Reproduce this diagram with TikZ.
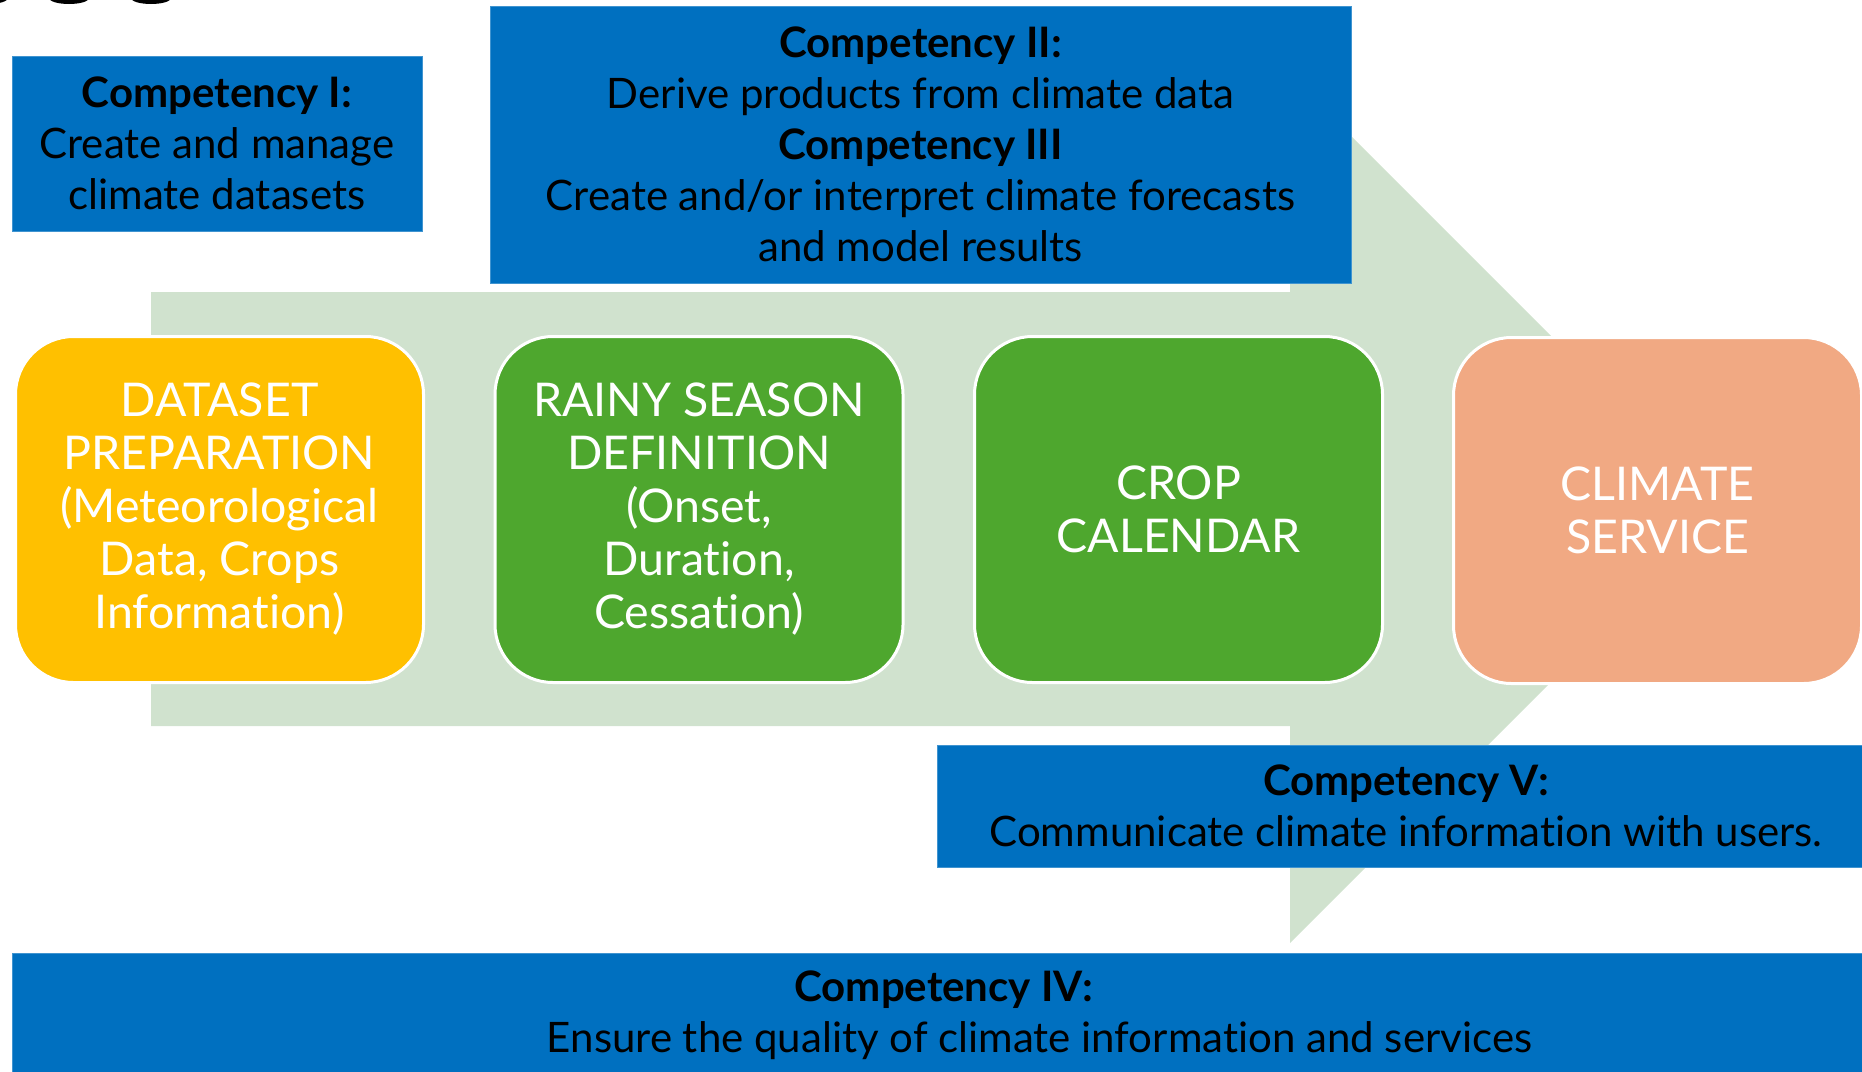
\documentclass[tikz,border=0pt]{standalone}
\usepackage{fontspec}
\setmainfont{Lato}[Ligatures=NoCommon]

\definecolor{compblue}{HTML}{0070C0}
\definecolor{bandgreen}{HTML}{D0E2CE}
\definecolor{prepyellow}{HTML}{FFC000}
\definecolor{stepgreen}{HTML}{4EA72E}
\definecolor{servsalmon}{HTML}{F1A983}

\begin{document}
\begin{tikzpicture}[x=1pt,y=-1pt,
	comp/.style={fill=compblue, draw=compblue!75!white, line width=1pt, align=center, inner sep=0pt, font=\fontsize{42}{51}\selectfont},
	stage/.style={rounded corners=58pt, draw=white, line width=3pt, align=center, text=white, inner sep=0pt,
		minimum width=408pt, minimum height=346pt, font=\fontsize{46.5}{53}\selectfont}]
	
	\clip (0,0) rectangle (1862,1071);
	
	%cut off title letters
	\fill[black] (-12,-2) ellipse (20 and 6);
	\fill[black] (69,-2) ellipse (20 and 6);
	\fill[black] (151,-2) ellipse (20 and 6);
	
	%big arrow behind the stages
	\fill[bandgreen] (151,292) -- (1290,292) -- (1290,75) -- (1724,509) -- (1290,943) -- (1290,726) -- (151,726) -- cycle;
	
	%competency boxes
	\node[comp, minimum width=410pt, minimum height=175pt] (c1) at (217,143.5){\textbf{Competency I:}\\Create and manage\\climate datasets};
	\node[comp, minimum width=861pt, minimum height=277pt] (c23) at (920.5,144.5){\textbf{Competency II:}\\Derive products from climate data\\\textbf{Competency III}\\Create and/or interpret climate forecasts\\and model results};
	\node[comp, minimum width=938pt, minimum height=122pt] (c5) at (1406,806){\textbf{Competency V:}\\Communicate climate information with users.};
	\node[comp, minimum width=1863pt, minimum height=125pt] (c4) at (943.5,1015.5){\textbf{Competency IV:}\\\hspace*{192pt}Ensure the quality of climate information and services};
	
	%stages
	\node[stage, fill=prepyellow] (prep) at (219.5,509.5){DATASET\\PREPARATION\\(Meteorological\\Data, Crops\\Information)};
	\node[stage, fill=stepgreen] (rainy) at (699,509.5){RAINY SEASON\\DEFINITION\\(Onset,\\Duration,\\Cessation)};
	\node[stage, fill=stepgreen] (crop) at (1178.5,509.5){CROP\\CALENDAR};
	\node[stage, fill=servsalmon] (serv) at (1657.5,510.5){CLIMATE\\SERVICE};
	
\end{tikzpicture}
\end{document}
